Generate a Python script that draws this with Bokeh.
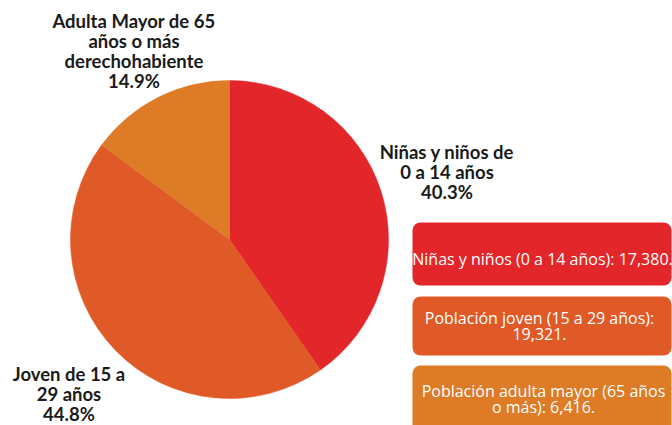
import math
from bokeh.plotting import figure
from bokeh.models import Range1d, ColumnDataSource
from bokeh.core.properties import value
from bokeh.embed import file_html
from bokeh.resources import INLINE

# ---- data ----
categories = ["Niñas y niños de 0 a 14 años", "Joven de 15 a 29 años",
              "Adulta Mayor de 65 años o más derechohabiente"]
counts = [17380, 19321, 6416]
percent_labels = ["40.3%", "44.8%", "14.9%"]
label_texts = ["Niñas y niños de\n0 a 14 años\n40.3%",
               "Joven de 15 a\n29 años\n44.8%",
               "Adulta Mayor de 65\naños o más\nderechohabiente\n14.9%"]
box_texts = ["Niñas y niños (0 a 14 años): 17,380.",
             "Población joven (15 a 29 años):\n19,321.",
             "Población adulta mayor (65 años\no más): 6,416."]
colors = ["#E3262A", "#E05A27", "#DD7B27"]

W, H = 672, 425
def Y(y):
    return H - y

p = figure(width=W, height=H, output_backend="svg", toolbar_location=None,
           x_range=Range1d(0, W), y_range=Range1d(0, H),
           min_border=0, border_fill_color="white", background_fill_color="white")
p.axis.visible = False
p.grid.visible = False
p.outline_line_color = None

# pie wedges, clockwise from 12 o'clock
total = sum(counts)
starts, ends = [], []
cum = 0.0
for c in counts:
    starts.append(math.pi / 2 - 2 * math.pi * cum / total)
    cum += c
    ends.append(math.pi / 2 - 2 * math.pi * cum / total)
src = ColumnDataSource(dict(start=starts, end=ends, color=colors))
p.wedge(x=229, y=Y(239), radius=159, start_angle="start", end_angle="end",
        direction="clock", fill_color="color", line_color="color", line_width=0.5,
        source=src)

# pie labels
label_pos = [(446.5, Y(171.5)), (68.5, Y(393.5)), (133.5, Y(50.5))]
p.text(x=[q[0] for q in label_pos], y=[q[1] for q in label_pos], text=label_texts,
       text_font=value("Lato"), text_font_style="bold", text_font_size="18.5px",
       text_color="#1a1a1a", text_align="center", text_baseline="middle",
       text_line_height=0.9)

# info boxes
box_tops = [222, 296, 365]
box_bottoms = [285, 355, 432]
p.quad(left=412, right=671, top=[Y(t) for t in box_tops],
       bottom=[Y(b) for b in box_bottoms], fill_color=colors, line_color=None,
       border_radius=8)
box_text_x = [542, 539, 543]
box_text_y = [Y(258), Y(325.5), Y(398.5)]
p.text(x=box_text_x, y=box_text_y, text=box_texts, text_font=value("Open Sans"),
       text_font_size="16px", text_color="white", text_align="center",
       text_baseline="middle", text_line_height=0.72)

open("out.html", "w").write(file_html(p, INLINE))
